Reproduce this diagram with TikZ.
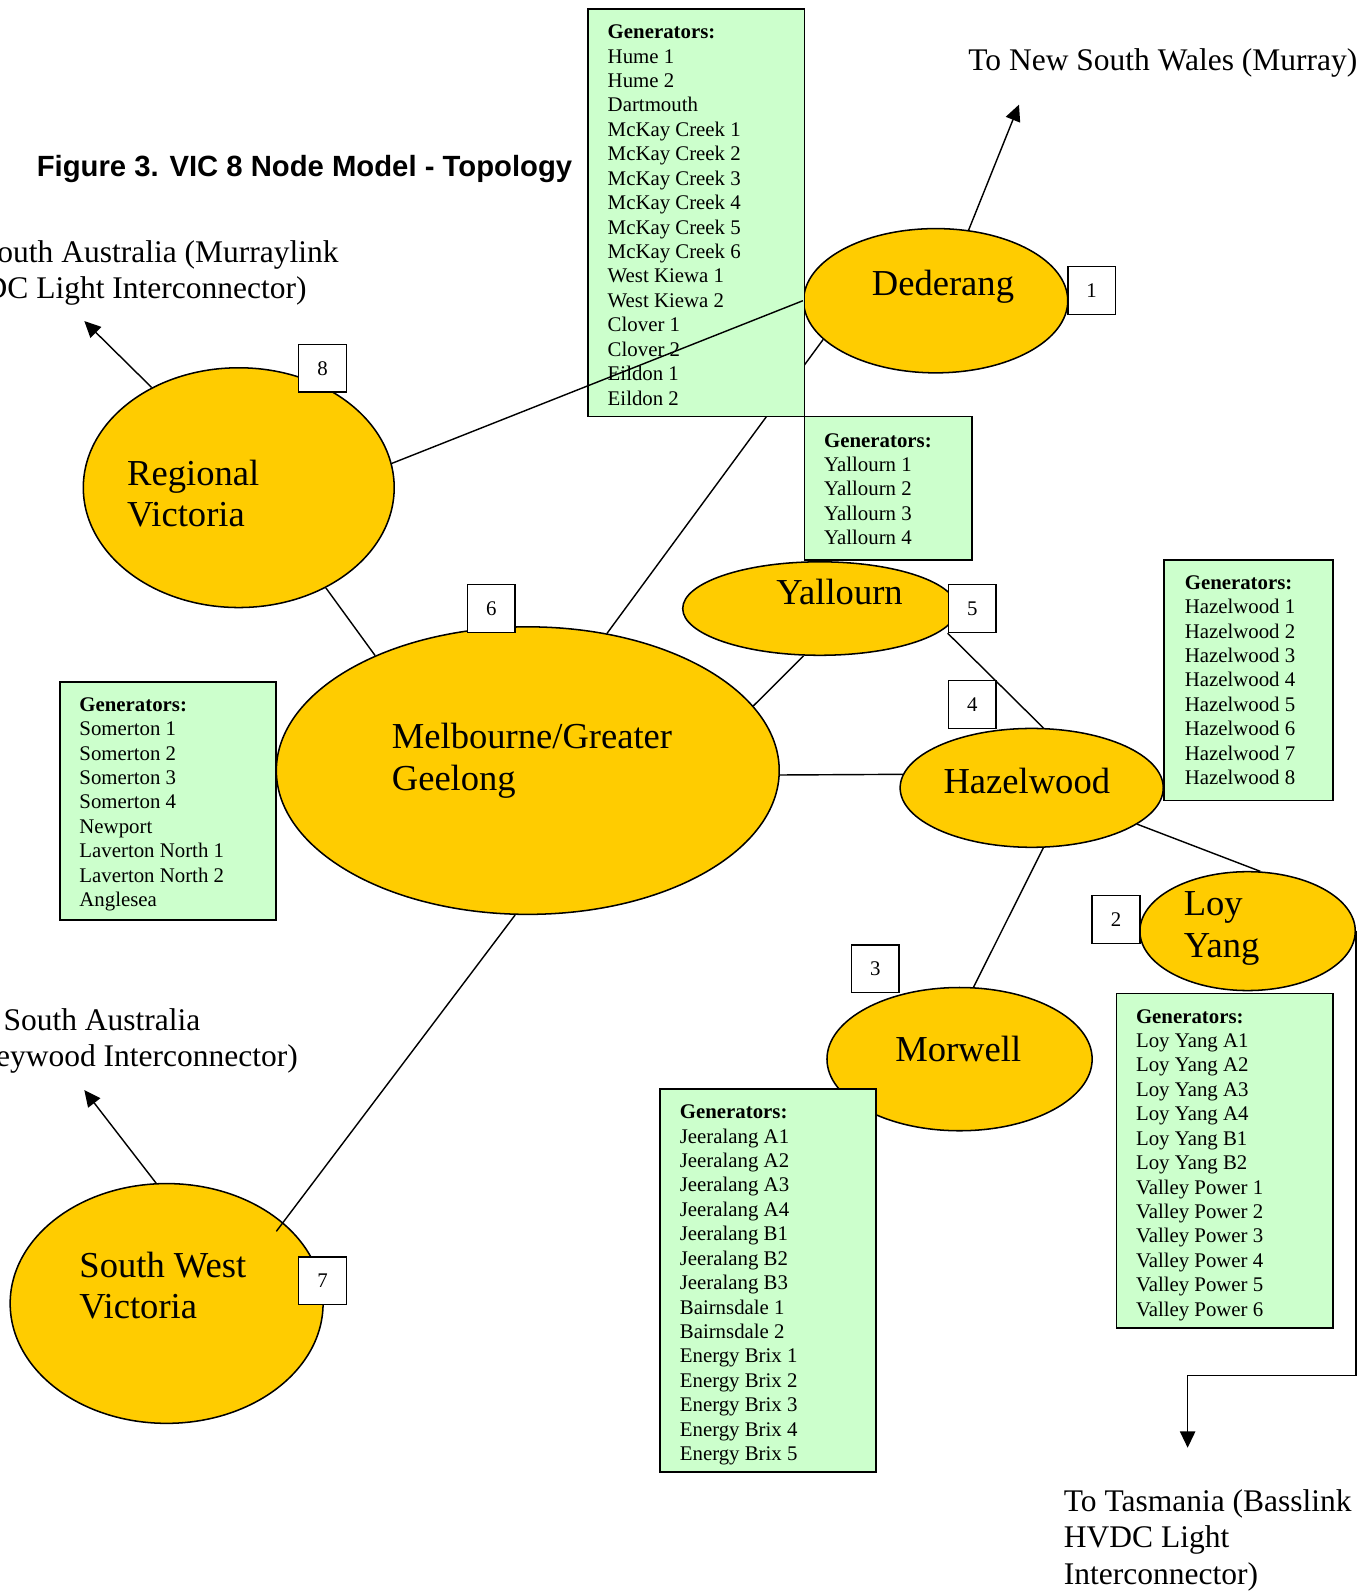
\documentclass[tikz,border=0pt]{standalone}
\usepackage{fontspec}
\setmainfont{Liberation Serif}
\newfontfamily\titlefam{Liberation Sans}
\usetikzlibrary{arrows.meta,shapes.geometric}
\definecolor{nodegold}{HTML}{FFCC00}
\definecolor{genmint}{HTML}{CCFFCC}
\newcommand\genfont{\fontsize{20.5}{24.05}\selectfont}
\newcommand\labfont{\fontsize{36}{41}\selectfont}
\newcommand\extfont{\fontsize{31}{35.6}\selectfont}
\newcommand\textlines[1]{\begin{tabular}[t]{@{}l@{}}#1\end{tabular}}
\newcommand\genlist[1]{\begin{tabular}[t]{@{}l@{}}\textbf{Generators:}\\#1\end{tabular}}
\begin{document}
\begin{tikzpicture}[x=1pt,y=-1pt,
  region/.style={ellipse, draw, line width=1.5pt, fill=nodegold, inner sep=0pt},
  genbox/.style={rectangle, draw, line width=1.8pt, fill=genmint, anchor=north west, inner sep=0pt},
  numbox/.style={rectangle, draw, line width=1.5pt, fill=white, minimum size=47pt, inner sep=0pt, font=\genfont},
  link/.style={line width=1.4pt},
  feed/.style={line width=1.4pt, -{Triangle[length=16pt,width=15pt]}},
  txt/.style={anchor=base west, inner sep=0pt},
  lab/.style={txt, font=\labfont},
  ext/.style={txt, font=\extfont},
  gen/.style={txt, font=\genfont}]
\useasboundingbox (0,0) rectangle (1343,1568);
\clip (0,0) rectangle (1343,1568);

% regions
\node[region, minimum width=260pt, minimum height=142pt] (ded) at (921,296) {};
\node[region, minimum width=306pt, minimum height=236pt] (rv)  at (235,480) {};
\node[region, minimum width=495pt, minimum height=283pt] (mel) at (519.5,758.5) {};
\node[region, minimum width=270pt, minimum height=92pt]  (yal) at (807,599) {};
\node[region, minimum width=259pt, minimum height=117pt] (haz) at (1015.5,775.5) {};
\node[region, minimum width=212pt, minimum height=117pt] (ly)  at (1228,916.5) {};
\node[region, minimum width=261pt, minimum height=141pt] (mor) at (944.5,1042.5) {};
\node[region, minimum width=308pt, minimum height=236pt] (swv) at (164,1283) {};

% this link runs beneath the Dederang generator box
\draw[link] (ded.199) -- (mel.60);

% generator boxes
\node[genbox, minimum width=213pt, minimum height=401pt] (gded) at (578,8) {};
\node[genbox, minimum width=165pt, minimum height=141pt] (gyal) at (791,409) {};
\node[genbox, minimum width=213pt, minimum height=235pt] (gmel) at (58,670) {};
\node[genbox, minimum width=166pt, minimum height=237pt] (ghaz) at (1145,550) {};
\node[genbox, minimum width=213pt, minimum height=329pt] (gly)  at (1098,977) {};
\node[genbox, minimum width=212pt, minimum height=377pt] (gmor) at (649,1071) {};

% number boxes
\node[numbox] (b1) at (1074.5,286) {1};
\node[numbox] (b2) at (1098.5,905) {2};
\node[numbox] (b3) at (861.5,953.5) {3};
\node[numbox] (b4) at (957,693.5) {4};
\node[numbox] (b5) at (957,599) {5};
\node[numbox] (b6) at (483.5,599) {6};
\node[numbox] (b7) at (317.5,1260.5) {7};
\node[numbox] (b8) at (317.5,362.5) {8};

% links between regions
\coordinate (swvtap) at (272,1212);
\draw[link] (rv.311) -- (mel.143.5);
\draw[link] (mel.16.6) -- (yal.251);
\draw[link] (mel.-1.3) -- (haz.174.8);
\draw[link] (b5.south west) -- (haz.79);
\draw[link] (haz.281) -- (mor.79.5);
\draw[link] (haz.341.4) -- (ly.78.4);
\draw[link] (mel.265) -- (swvtap);
\draw[link] (rv.9) -- (ded.180);

% generator lists
\node[gen] (lded) at (598,38) {\genlist{Hume 1\\Hume 2\\Dartmouth\\McKay Creek 1\\McKay Creek 2\\McKay Creek 3\\McKay Creek 4\\McKay Creek 5\\McKay Creek 6\\West Kiewa 1\\West Kiewa 2\\Clover 1\\Clover 2\\Eildon 1\\Eildon 2}};
\node[gen] (lyal) at (811,440) {\genlist{Yallourn 1\\Yallourn 2\\Yallourn 3\\Yallourn 4}};
\node[gen] (lmel) at (78,700) {\genlist{Somerton 1\\Somerton 2\\Somerton 3\\Somerton 4\\Newport\\Laverton North 1\\Laverton North 2\\Anglesea}};
\node[gen] (lhaz) at (1166,580) {\genlist{Hazelwood 1\\Hazelwood 2\\Hazelwood 3\\Hazelwood 4\\Hazelwood 5\\Hazelwood 6\\Hazelwood 7\\Hazelwood 8}};
\node[gen] (lly) at (1118,1007) {\genlist{Loy Yang A1\\Loy Yang A2\\Loy Yang A3\\Loy Yang A4\\Loy Yang B1\\Loy Yang B2\\Valley Power 1\\Valley Power 2\\Valley Power 3\\Valley Power 4\\Valley Power 5\\Valley Power 6}};
\begin{scope}
\clip (gmor.north west) rectangle ([yshift=6pt]gmor.south east);
\node[gen] (lmor) at (669,1101) {\genlist{Jeeralang A1\\Jeeralang A2\\Jeeralang A3\\Jeeralang A4\\Jeeralang B1\\Jeeralang B2\\Jeeralang B3\\Bairnsdale 1\\Bairnsdale 2\\Energy Brix 1\\Energy Brix 2\\Energy Brix 3\\Energy Brix 4\\Energy Brix 5}};
\end{scope}

% region names
\node[lab] (tded) at (858,290.5) {Dederang};
\node[lab] (trv)  at (125,477.5) {\textlines{Regional\\Victoria}};
\node[lab] (tmel) at (385.5,737) {\textlines{Melbourne/Greater\\Geelong}};
\node[lab] (tyal) at (764,595) {Yallourn};
\node[lab] (thaz) at (928.5,781.5) {Hazelwood};
\node[lab] (tly)  at (1165,901) {\textlines{Loy\\Yang}};
\node[lab] (tmor) at (881,1045) {Morwell};
\node[lab] (tswv) at (78,1257) {\textlines{South West\\Victoria}};

% title
\node[txt, font=\titlefam\bfseries\fontsize{28.8}{34}\selectfont] (title) at (36,174) {Figure 3. VIC 8 Node Model - Topology};

% interconnectors
\coordinate (nswtip) at (1003,103);
\coordinate (mlinktip) at (83,316);
\coordinate (heytip) at (83,1073);
\coordinate (tasbend) at (1169,1354);
\coordinate (tastip) at (1169,1425);
\draw[feed] (ded.65) -- (nswtip);
\draw[feed] (rv.131) -- (mlinktip);
\draw[feed] (swv.95.8) -- (heytip);
\draw[feed] (ly.east) |- (tasbend) -- (tastip);

\node[ext] (tnsw) at (953,69) {To New South Wales (Murray)};
\node[ext] (tmlink) at (-60,258.5) {\textlines{To South Australia (Murraylink\\HVDC Light Interconnector)}};
\node[ext] (they) at (-36.7,1014) {\textlines{To South Australia\\(Heywood Interconnector)}};
\node[ext] (ttas) at (1047,1488) {\textlines{To Tasmania (Basslink\\HVDC Light\\Interconnector)}};
\end{tikzpicture}
\end{document}
